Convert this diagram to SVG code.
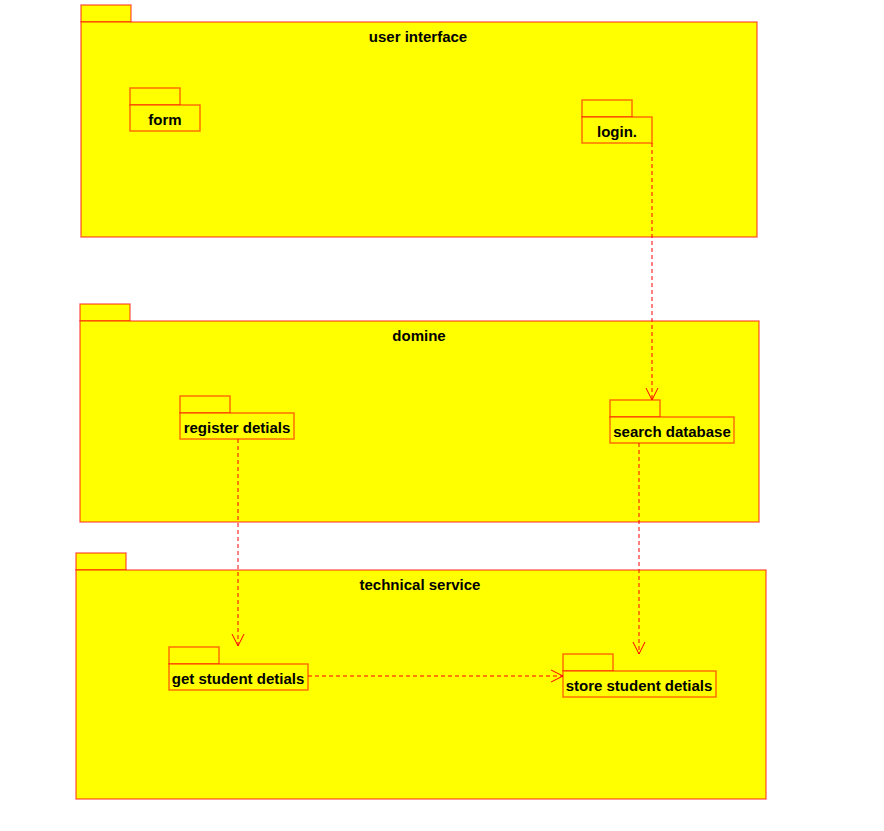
<svg xmlns="http://www.w3.org/2000/svg" width="884" height="831" viewBox="0 0 884 831">
  <style>
    .pkg { fill: #ffff00; stroke: #ff0000; stroke-width: 1.4; stroke-opacity: 0.6; }
    .lbl { font-family: "Liberation Sans", Arial, sans-serif; font-size: 15px; font-weight: bold; fill: #000; text-anchor: middle; }
    .dep { fill: none; stroke: #ff0000; stroke-width: 1; stroke-dasharray: 4 3; }
  </style>
  <defs>
    <marker id="open" viewBox="0 0 14 14" refX="13" refY="7" markerWidth="14" markerHeight="14" markerUnits="userSpaceOnUse" orient="auto">
      <path d="M1 1 L13 7 L1 13" fill="none" stroke="#ff0000" stroke-width="1"/>
    </marker>
  </defs>
  <rect width="884" height="831" fill="#ffffff"/>

  <g id="user-interface">
    <rect class="pkg" x="81" y="5" width="50" height="17"/>
    <rect class="pkg" x="81" y="22" width="676" height="215"/>
    <text class="lbl" x="418" y="42">user interface</text>
  </g>
  <g id="form">
    <rect class="pkg" x="130" y="88" width="50" height="17"/>
    <rect class="pkg" x="130" y="105" width="70" height="26"/>
    <text class="lbl" x="165" y="125">form</text>
  </g>
  <g id="login">
    <rect class="pkg" x="582" y="100" width="50" height="17"/>
    <rect class="pkg" x="582" y="117" width="70" height="26"/>
    <text class="lbl" x="617" y="137">login.</text>
  </g>

  <g id="domine">
    <rect class="pkg" x="80" y="304" width="50" height="17"/>
    <rect class="pkg" x="80" y="321" width="679" height="201"/>
    <text class="lbl" x="419" y="341">domine</text>
  </g>
  <g id="register-detials">
    <rect class="pkg" x="180" y="396" width="50" height="17"/>
    <rect class="pkg" x="180" y="413" width="114" height="26"/>
    <text class="lbl" x="237" y="433">register detials</text>
  </g>
  <g id="search-database">
    <rect class="pkg" x="610" y="400" width="50" height="17"/>
    <rect class="pkg" x="610" y="417" width="124" height="26"/>
    <text class="lbl" x="672" y="437">search database</text>
  </g>

  <g id="technical-service">
    <rect class="pkg" x="76" y="553" width="50" height="17"/>
    <rect class="pkg" x="76" y="570" width="690" height="229"/>
    <text class="lbl" x="420" y="590">technical service</text>
  </g>
  <g id="get-student-detials">
    <rect class="pkg" x="169" y="647" width="50" height="17"/>
    <rect class="pkg" x="169" y="664" width="139" height="26"/>
    <text class="lbl" x="238" y="684">get student detials</text>
  </g>
  <g id="store-student-detials">
    <rect class="pkg" x="563" y="654" width="50" height="17"/>
    <rect class="pkg" x="563" y="671" width="153" height="26"/>
    <text class="lbl" x="639" y="691">store student detials</text>
  </g>

  <g id="connectors">
    <path class="dep" d="M652 143 L652 400" marker-end="url(#open)"/>
    <path class="dep" d="M238 439 L238 646" marker-end="url(#open)"/>
    <path class="dep" d="M639 443 L639 654" marker-end="url(#open)"/>
    <path class="dep" d="M308 676 L563 676" marker-end="url(#open)"/>
  </g>
</svg>
